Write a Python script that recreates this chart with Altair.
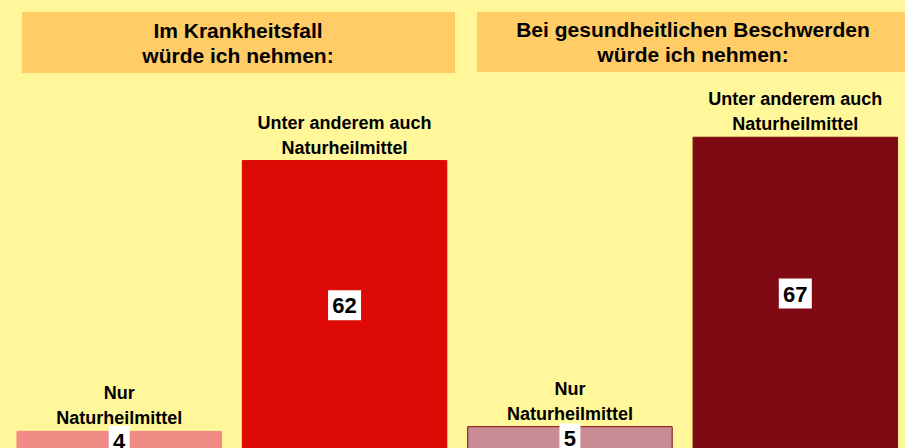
import altair as alt
import pandas as pd

# ---- data ----
panel_titles = [["Im Krankheitsfall", "würde ich nehmen:"],
                ["Bei gesundheitlichen Beschwerden", "würde ich nehmen:"]]
groups = ["Im Krankheitsfall", "Im Krankheitsfall",
          "Bei gesundheitlichen Beschwerden", "Bei gesundheitlichen Beschwerden"]
answers = ["Nur Naturheilmittel", "Unter anderem auch Naturheilmittel",
           "Nur Naturheilmittel", "Unter anderem auch Naturheilmittel"]
label_lines = [["Nur", "Naturheilmittel"],
               ["Unter anderem auch", "Naturheilmittel"],
               ["Nur", "Naturheilmittel"],
               ["Unter anderem auch", "Naturheilmittel"]]
values = [4, 62, 5, 67]

keys = [f"{g} | {a}" for g, a in zip(groups, answers)]
fills = ["#F08A84", "#DD0A05", "#C98C94", "#7F0A14"]
strokes = ["#F08A84", "#DD0A05", "#7F0A14", "#7F0A14"]

df = pd.DataFrame({"key": keys, "group": groups, "answer": answers,
                   "lines": label_lines, "value": values})

BG = "#FFF799"
HEAD = "#FFCC66"

x = alt.X("key:N", sort=keys, axis=None,
          scale=alt.Scale(range=[6.5, 908], paddingInner=0.0927, paddingOuter=0.0464))
y_scale = alt.Scale(domain=[0, 96.4], range=[450, 0])

base = alt.Chart(df)

bars = base.mark_bar(strokeWidth=1).encode(
    x=x,
    y=alt.Y("value:Q", scale=y_scale, axis=None),
    fill=alt.Fill("key:N", scale=alt.Scale(domain=keys, range=fills), legend=None),
    stroke=alt.Stroke("key:N", scale=alt.Scale(domain=keys, range=strokes), legend=None),
)

bar_labels = base.mark_text(
    baseline="alphabetic", dy=-32, lineHeight=25, font="Liberation Sans",
    fontWeight="bold", fontSize=18, color="#000000"
).encode(x=x, y=alt.Y("value:Q", scale=y_scale), text="lines")

mid = base.transform_calculate(mid="datum.value / 2")

wide_box = mid.transform_filter("datum.value >= 10").mark_point(
    shape="M-1.1,-1H1.1V1H-1.1Z", filled=True, fill="#FFFFFF",
    strokeWidth=0, size=900, opacity=1
).encode(x=x, y=alt.Y("mid:Q", scale=y_scale))

narrow_box = mid.transform_filter("datum.value < 10").mark_point(
    shape="M-0.7,-1H0.7V1H-0.7Z", filled=True, fill="#FFFFFF",
    strokeWidth=0, size=900, opacity=1
).encode(x=x, y=alt.Y("mid:Q", scale=y_scale))

value_text = mid.mark_text(
    font="Liberation Sans", fontWeight="bold", fontSize=22, color="#000000",
    baseline="middle", dy=1
).encode(x=x, y=alt.Y("mid:Q", scale=y_scale), text="value:Q")

head_df = pd.DataFrame({"title": panel_titles})

head_left = alt.Chart(head_df.iloc[[0]]).mark_rect(color=HEAD).encode(
    x=alt.value(22), x2=alt.value(455), y=alt.value(12), y2=alt.value(73))
head_right = alt.Chart(head_df.iloc[[1]]).mark_rect(color=HEAD).encode(
    x=alt.value(477), x2=alt.value(905), y=alt.value(12), y2=alt.value(72))

head_text_left = alt.Chart(head_df.iloc[[0]]).mark_text(
    font="Liberation Sans", fontWeight="bold", fontSize=21, lineHeight=25.5,
    baseline="alphabetic", align="center", color="#000000"
).encode(x=alt.value(238), y=alt.value(37.5), text="title")
head_text_right = alt.Chart(head_df.iloc[[1]]).mark_text(
    font="Liberation Sans", fontWeight="bold", fontSize=21, lineHeight=24.5,
    baseline="alphabetic", align="center", color="#000000"
).encode(x=alt.value(693), y=alt.value(37), text="title")

chart = alt.layer(
    head_left, head_right, head_text_left, head_text_right,
    bars, wide_box, narrow_box, value_text, bar_labels
).properties(
    width=905, height=448, background=BG, padding=0,
    autosize=alt.AutoSizeParams(type="none")
).configure_view(stroke=None, fill=BG)

chart.save("out.html", embed_options={"renderer": "svg", "actions": False})
